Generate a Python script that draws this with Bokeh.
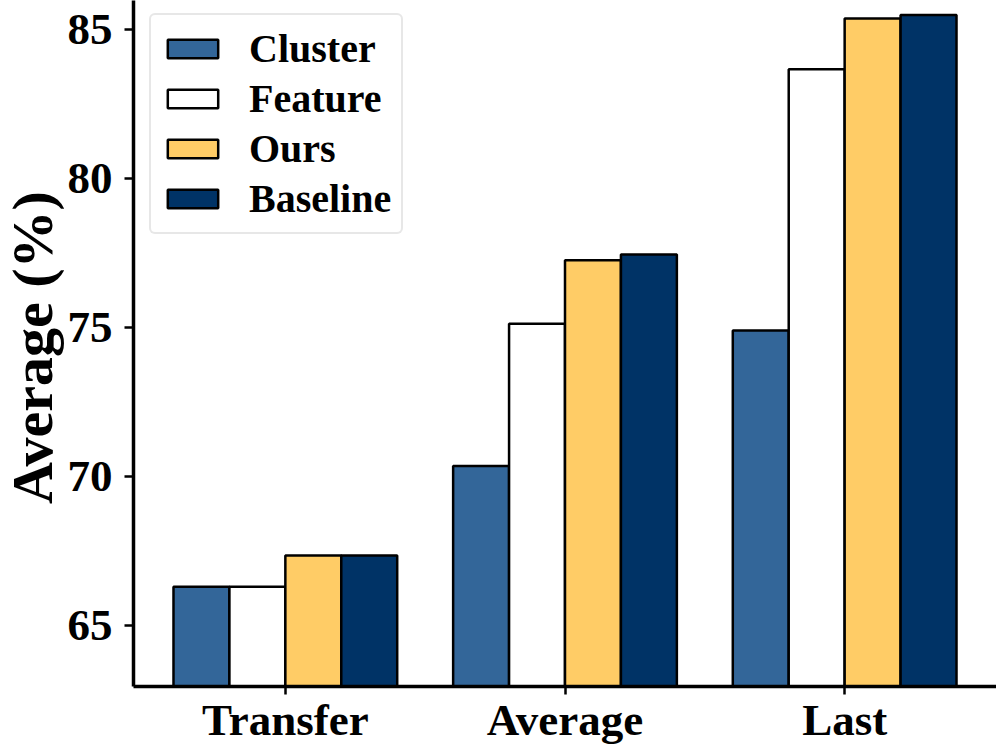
import math
from bokeh.plotting import figure
from bokeh.layouts import row
from bokeh.models import FixedTicker, Range1d, Legend, LegendItem, ColumnDataSource
from bokeh.core.properties import value
from bokeh.embed import file_html
from bokeh.resources import INLINE

categories = ["Transfer", "Average", "Last"]
series = ["Cluster", "Feature", "Ours", "Baseline"]
cluster = [66.3, 70.35, 74.9]
feature = [66.3, 75.12, 83.66]
ours = [67.35, 77.25, 85.37]
baseline = [67.35, 77.45, 85.48]
colors = ["#336699", "#FFFFFF", "#FFCC66", "#003366"]
y_ticks = [65, 70, 75, 80, 85]
y_label = "Average (%)"

FONT = "Liberation Serif"
bar_w = 0.2
W, H = 996, 749
LABEL_W = 64

# narrow strip holding the rotated y-axis title
fa = figure(width=LABEL_W, height=H, output_backend="svg", toolbar_location=None,
            x_range=Range1d(0, LABEL_W), y_range=Range1d(0, H),
            x_axis_location=None, y_axis_location=None,
            min_border_left=0, min_border_right=0, min_border_top=0, min_border_bottom=0)
fa.outline_line_color = None
fa.xgrid.visible = False
fa.ygrid.visible = False
fa.text(x=[LABEL_W / 2], y=[370], text=[y_label], angle=math.pi / 2,
        text_font=value(FONT), text_font_style="bold", text_font_size="58px",
        text_color="black", text_align="center", text_baseline="alphabetic")

p = figure(width=W - LABEL_W, height=H, output_backend="svg", toolbar_location=None,
           x_range=Range1d(-0.543, 2.543), y_range=Range1d(62.95, 85.97),
           min_border_left=132 - LABEL_W, min_border_right=0, min_border_top=0,
           min_border_bottom=63)
p.outline_line_color = None
p.xgrid.visible = False
p.ygrid.visible = False
p.background_fill_color = "white"
p.border_fill_color = "white"

items = []
for j, (name, vals) in enumerate(zip(series, [cluster, feature, ours, baseline])):
    xs = [i + (j - 1.5) * bar_w for i in range(len(categories))]
    src = ColumnDataSource(dict(x=xs, top=vals))
    r = p.vbar(x="x", top="top", bottom=0, width=bar_w, source=src,
               fill_color=colors[j], line_color="black", line_width=2.5)
    items.append(LegendItem(label=name, renderers=[r]))

legend = Legend(items=items, location=(16, 452))
legend.label_text_font = FONT
legend.label_text_font_style = "bold"
legend.label_text_font_size = "40px"
legend.label_text_color = "black"
legend.glyph_width = 63
legend.glyph_height = 23
legend.label_standoff = 25
legend.spacing = 3
legend.padding = 10
legend.margin = 0
legend.border_line_color = "#d0d0d0"
legend.border_line_width = 2.5
legend.background_fill_color = "white"
legend.background_fill_alpha = 1.0
if "border_radius" in Legend.properties():
    legend.border_radius = 6
p.add_layout(legend, "center")

for ax in (p.xaxis[0], p.yaxis[0]):
    ax.axis_line_width = 3.5
    ax.axis_line_color = "black"
    ax.major_tick_line_width = 2.5
    ax.major_tick_line_color = "black"
    ax.major_tick_out = 9
    ax.major_tick_in = 0
    ax.minor_tick_line_color = None
    ax.major_label_text_font = FONT
    ax.major_label_text_font_style = "bold"
    ax.major_label_text_font_size = "45px"
    ax.major_label_text_color = "black"

p.xaxis[0].ticker = FixedTicker(ticks=list(range(len(categories))))
p.xaxis[0].major_label_overrides = {i: c for i, c in enumerate(categories)}
p.xaxis[0].major_tick_out = 8
p.xaxis[0].major_label_standoff = 0

p.yaxis[0].ticker = FixedTicker(ticks=y_ticks)
p.yaxis[0].major_label_standoff = 12

layout = row(fa, p, spacing=0)
open("out.html", "w").write(file_html(layout, INLINE))
